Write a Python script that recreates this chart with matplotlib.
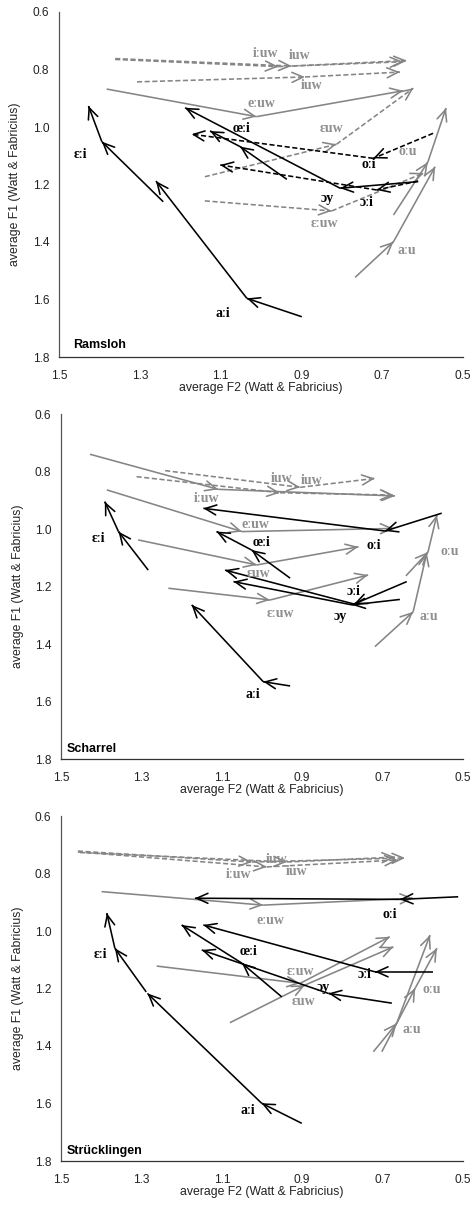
import matplotlib
matplotlib.use("Agg")
import matplotlib.pyplot as plt

# ------------------------------------------------------------------ data
F2_TICKS = [1.5, 1.3, 1.1, 0.9, 0.7, 0.5]
F1_TICKS = [0.6, 0.8, 1.0, 1.2, 1.4, 1.6, 1.8]
X_LABEL = "average F2 (Watt & Fabricius)"
Y_LABEL = "average F1 (Watt & Fabricius)"

VOWELS = ["iːuw", "iuw", "iuw", "eːuw", "ɛuw", "ɛːuw", "aːu", "oːu",
          "oːi", "ɔːi", "ɔy", "œːi", "aːi", "ɛːi"]

# Ramsloh: onset, midpoint, offset
RAMSLOH_F2 = [
    [1.361, 0.957, 0.639], [1.361, 0.924, 0.648], [1.307, 0.891, 0.656],
    [1.382, 1.011, 0.648], [1.139, 0.813, 0.623], [1.139, 0.825, 0.597],
    [0.767, 0.672, 0.569], [0.672, 0.587, 0.542], [0.574, 0.722, 1.172],
    [0.611, 0.714, 1.101], [0.611, 0.804, 1.188], [0.936, 1.052, 1.126],
    [0.899, 1.035, 1.260], [1.242, 1.394, 1.427]]
RAMSLOH_F1 = [
    [0.765, 0.790, 0.769], [0.762, 0.788, 0.773], [0.843, 0.826, 0.809],
    [0.868, 0.964, 0.874], [1.173, 1.060, 0.865], [1.257, 1.292, 1.160],
    [1.523, 1.399, 1.138], [1.306, 1.122, 0.934], [1.022, 1.109, 1.025],
    [1.188, 1.219, 1.132], [1.190, 1.213, 0.933], [1.182, 1.068, 1.014],
    [1.660, 1.596, 1.188], [1.260, 1.051, 0.927]]
RAMSLOH_LABEL_F2 = [0.990, 0.905, 0.875, 0.998, 0.825, 0.842, 0.639, 0.636,
                    0.734, 0.738, 0.837, 1.048, 1.094, 1.448]
RAMSLOH_LABEL_F1 = [0.744, 0.750, 0.854, 0.918, 1.005, 1.335, 1.430, 1.086,
                    1.132, 1.264, 1.250, 1.005, 1.647, 1.097]

# Scharrel
SCHARREL_F2 = [
    [1.428, 1.109, 0.669], [1.312, 0.955, 0.673], [1.241, 0.905, 0.719],
    [1.386, 1.050, 0.673], [1.308, 1.013, 0.760], [1.233, 0.980, 0.736],
    [0.719, 0.624, 0.590], [0.642, 0.587, 0.565], [0.553, 0.694, 1.146],
    [0.640, 0.771, 1.092], [0.657, 0.776, 1.071], [0.930, 1.026, 1.113],
    [0.930, 0.997, 1.175], [1.283, 1.357, 1.391]]
SCHARREL_F1 = [
    [0.740, 0.862, 0.885], [0.818, 0.874, 0.882], [0.797, 0.855, 0.824],
    [0.864, 1.009, 0.998], [1.038, 1.125, 1.062], [1.206, 1.247, 1.160],
    [1.409, 1.288, 1.083], [1.163, 1.080, 0.951], [0.945, 1.007, 0.928],
    [1.183, 1.261, 1.143], [1.245, 1.264, 1.183], [1.171, 1.073, 1.009],
    [1.546, 1.531, 1.264], [1.143, 1.009, 0.905]]
SCHARREL_LABEL_F2 = [1.138, 0.951, 0.876, 1.017, 1.009, 0.955, 0.586, 0.532,
                     0.723, 0.773, 0.806, 1.001, 1.022, 1.407]
SCHARREL_LABEL_F1 = [0.893, 0.826, 0.833, 0.986, 1.154, 1.293, 1.305, 1.079,
                     1.056, 1.218, 1.305, 1.048, 1.577, 1.032]

# Strücklingen
STRUECK_F2 = [
    [1.458, 1.025, 0.644], [1.458, 0.988, 0.662], [1.453, 0.938, 0.669],
    [1.399, 0.997, 0.624], [1.080, 0.893, 0.673], [1.262, 0.905, 0.682],
    [0.723, 0.665, 0.582], [0.702, 0.619, 0.565], [0.512, 0.657, 1.167],
    [0.574, 0.719, 1.146], [0.677, 0.835, 1.150], [0.951, 1.050, 1.200],
    [0.901, 1.001, 1.285], [1.288, 1.366, 1.386]]
STRUECK_F1 = [
    [0.722, 0.760, 0.746], [0.725, 0.777, 0.753], [0.727, 0.760, 0.743],
    [0.863, 0.910, 0.886], [1.319, 1.188, 1.055], [1.122, 1.182, 1.020],
    [1.420, 1.321, 1.014], [1.420, 1.199, 1.060], [0.881, 0.890, 0.886],
    [1.142, 1.142, 0.979], [1.251, 1.217, 1.066], [1.229, 1.112, 0.979],
    [1.669, 1.599, 1.217], [1.212, 1.060, 0.938]]
STRUECK_LABEL_F2 = [1.059, 0.963, 0.914, 0.980, 0.897, 0.905, 0.628, 0.578,
                    0.682, 0.744, 0.848, 1.034, 1.034, 1.403]
STRUECK_LABEL_F1 = [0.805, 0.750, 0.794, 0.962, 1.246, 1.142, 1.344, 1.205,
                    0.944, 1.153, 1.196, 1.072, 1.623, 1.083]

PANEL_NAMES = ["Ramsloh", "Scharrel", "Strücklingen"]

# ------------------------------------------------------------------ styles
# g = grey, k = black ; s = solid, d = dashed
RAMSLOH_STYLE = ["gd", "gd", "gd", "gs", "gd", "gd", "gs", "gs",
                 "kd", "kd", "ks", "ks", "ks", "ks"]
SCHARREL_STYLE = ["gs", "gd", "gd", "gs", "gs", "gs", "gs", "gs",
                  "ks", "ks", "ks", "ks", "ks", "ks"]
STRUECK_STYLE = ["gd", "gd", "gd", "gs", "gs", "gs", "gs", "gs",
                 "ks", "ks", "ks", "ks", "ks", "ks"]

GREY_LINE = "#858585"
GREY_TEXT = "#8f8f8f"
LW = 1.15
DASH = (0, (3.2, 1.6))

W, H = 473, 1209
# axes rectangles in pixels: left, top, right, bottom
AX_PIX = [(59, 12, 463, 357), (61, 414, 463, 759), (61, 816, 463, 1161)]
NAME_POS = [(0.035, 0.035), (0.014, 0.028), (0.014, 0.028)]

SANS = ["Liberation Sans", "DejaVu Sans"]
SERIF = ["Liberation Serif", "DejaVu Serif"]

fig = plt.figure(figsize=(W / 100, H / 100), dpi=100)

panels = [
    (RAMSLOH_F2, RAMSLOH_F1, RAMSLOH_LABEL_F2, RAMSLOH_LABEL_F1, RAMSLOH_STYLE),
    (SCHARREL_F2, SCHARREL_F1, SCHARREL_LABEL_F2, SCHARREL_LABEL_F1, SCHARREL_STYLE),
    (STRUECK_F2, STRUECK_F1, STRUECK_LABEL_F2, STRUECK_LABEL_F1, STRUECK_STYLE),
]


def draw_traj(ax, f2, f1, color, ls, z):
    for i in range(len(f2) - 1):
        x0, y0, x1, y1 = f2[i], f1[i], f2[i + 1], f1[i + 1]
        ax.plot([x0, x1], [y0, y1], color=color, lw=LW, linestyle=ls,
                solid_capstyle="butt", dash_capstyle="butt", zorder=z)
        xs = x1 - 0.02 * (x1 - x0)
        ys = y1 - 0.02 * (y1 - y0)
        ax.annotate("", xy=(x1, y1), xytext=(xs, ys),
                    arrowprops=dict(arrowstyle="->,head_length=0.8,head_width=0.36",
                                    color=color, lw=LW, shrinkA=0, shrinkB=0,
                                    mutation_scale=10),
                    zorder=z)


for k, (f2s, f1s, lx, ly, styles) in enumerate(panels):
    l, t, r, b = AX_PIX[k]
    ax = fig.add_axes([l / W, 1 - b / H, (r - l) / W, (b - t) / H])
    ax.set_xlim(1.5, 0.5)
    ax.set_ylim(1.8, 0.6)
    ax.set_xticks(F2_TICKS)
    ax.set_yticks(F1_TICKS)
    ax.set_xticklabels([f"{v:.1f}" for v in F2_TICKS], family=SANS, fontsize=8.6,
                       color="#222222")
    ax.set_yticklabels([f"{v:.1f}" for v in F1_TICKS], family=SANS, fontsize=8.6,
                       color="#222222")
    ax.tick_params(axis="both", length=0)
    ax.tick_params(axis="x", pad=9.5)
    ax.tick_params(axis="y", pad=7)
    for s in ("top", "right"):
        ax.spines[s].set_visible(False)
    ax.spines["left"].set_color("#555555")
    ax.spines["left"].set_linewidth(0.9)
    ax.spines["bottom"].set_color("#333333")
    ax.spines["bottom"].set_linewidth(0.9)
    ax.set_xlabel(X_LABEL, family=SANS, fontsize=8.8, color="#222222")
    ax.set_ylabel(Y_LABEL, family=SANS, fontsize=8.8, color="#222222")
    ax.xaxis.set_label_coords(0.5, -0.072)
    ax.yaxis.set_label_coords(-0.093, 0.5)

    # grey first, black on top
    order = [i for i, s in enumerate(styles) if s[0] == "g"] + \
            [i for i, s in enumerate(styles) if s[0] == "k"]
    for i in order:
        st = styles[i]
        color = GREY_LINE if st[0] == "g" else "black"
        ls = DASH if st[1] == "d" else "-"
        draw_traj(ax, f2s[i], f1s[i], color, ls, 3 if st[0] == "k" else 2)

    for i, name in enumerate(VOWELS):
        tc = GREY_TEXT if styles[i][0] == "g" else "black"
        ax.text(lx[i], ly[i], name, family=SERIF, fontweight="bold",
                fontsize=10, color=tc, ha="center", va="center", zorder=4)

    nx, ny = NAME_POS[k]
    ax.text(nx, ny, PANEL_NAMES[k], transform=ax.transAxes, family=SANS,
            fontweight="bold", fontsize=9, ha="left", va="center", color="black")

fig.savefig("out.png", dpi=100)
